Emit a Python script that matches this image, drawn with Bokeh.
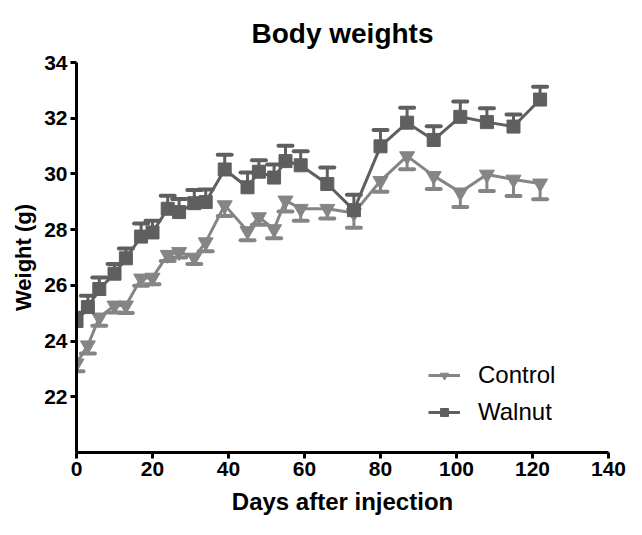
from bokeh.plotting import figure
from bokeh.models import Range1d, FixedTicker, Legend, LegendItem
from bokeh.embed import file_html
from bokeh.resources import INLINE

days = [0, 3, 6, 10, 13, 17, 20, 24, 27, 31, 34, 39, 45, 48, 52, 55, 59, 66, 73, 80, 87, 94, 101, 108, 115, 122]
control = [23.2, 23.85, 24.85, 25.28, 25.28, 26.25, 26.28, 27.1, 27.2, 27.0, 27.55, 28.88, 27.95, 28.45, 28.02, 29.05, 28.75,
           28.75, 28.6, 29.75, 30.64, 29.93, 29.34, 29.98, 29.8, 29.66]
control_err = [0.28, 0.3, 0.3, 0.25, 0.27, 0.26, 0.24, 0.23, 0.2, 0.23, 0.33, 0.39, 0.33, 0.27, 0.33, 0.4, 0.43,
               0.35, 0.53, 0.39, 0.47, 0.47, 0.53, 0.59, 0.59, 0.57]
walnut = [24.72, 25.22, 25.87, 26.42, 26.97, 27.75, 27.9, 28.75, 28.63, 28.95, 28.99, 30.16, 29.52, 30.08, 29.87, 30.46,
          30.31, 29.64, 28.7, 30.99, 31.84, 31.22, 32.05, 31.86, 31.7, 32.67]
walnut_err = [0.3, 0.41, 0.41, 0.35, 0.35, 0.47, 0.42, 0.47, 0.47, 0.47, 0.45, 0.53, 0.53, 0.41, 0.47, 0.55, 0.5,
              0.59, 0.55, 0.59, 0.54, 0.49, 0.55, 0.5, 0.43, 0.46]
x_ticks = [0, 20, 40, 60, 80, 100, 120, 140]
y_ticks = [22, 24, 26, 28, 30, 32, 34]

FONT = "Liberation Sans"
C_COL = "#858585"
W_COL = "#5f5f5f"

p = figure(width=626, height=519, x_range=Range1d(0, 140), y_range=Range1d(20, 34),
           output_backend="svg", toolbar_location=None,
           min_border_left=76, min_border_right=18, min_border_top=62, min_border_bottom=67,
           title="Body weights")
p.title.align = "center"
p.title.text_font = FONT
p.title.text_font_size = "28px"
p.title.text_font_style = "bold"
p.title.text_color = "black"
p.title.standoff = 28
p.outline_line_color = None
p.xgrid.visible = False
p.ygrid.visible = False

for ax, ticks in ((p.xaxis[0], x_ticks), (p.yaxis[0], y_ticks)):
    ax.ticker = FixedTicker(ticks=ticks)
    ax.axis_line_width = 3
    ax.axis_line_color = "black"
    ax.major_tick_line_width = 3
    ax.major_tick_line_color = "black"
    ax.major_tick_out = 6
    ax.major_tick_in = 0
    ax.minor_tick_line_color = None
    ax.major_label_text_font = FONT
    ax.major_label_text_font_style = "bold"
    ax.major_label_text_font_size = "21px"
    ax.major_label_text_color = "black"
    ax.axis_label_text_font = FONT
    ax.axis_label_text_font_style = "bold"
    ax.axis_label_text_color = "black"
    ax.major_label_standoff = 3

p.xaxis.axis_label = "Days after injection"
p.yaxis.axis_label = "Weight (g)"
p.xaxis.axis_label_text_font_size = "24px"
p.yaxis.axis_label_text_font_size = "22px"
p.xaxis.axis_label_standoff = 9
p.yaxis.axis_label_standoff = 5

# Control (error bars below)
c_low = [v - e for v, e in zip(control, control_err)]
p.segment(x0=days, y0=control, x1=days, y1=c_low, line_color=C_COL, line_width=3)
p.scatter(x=days, y=c_low, marker="dash", size=14, line_color=C_COL, line_width=4, line_cap="round")
c_line = p.line(days, control, line_color=C_COL, line_width=3)
c_mark = p.scatter(days, control, marker="inverted_triangle", size=15, fill_color=C_COL, line_color=C_COL)

# Walnut (error bars above)
w_high = [v + e for v, e in zip(walnut, walnut_err)]
p.segment(x0=days, y0=walnut, x1=days, y1=w_high, line_color=W_COL, line_width=3)
p.scatter(x=days, y=w_high, marker="dash", size=14, line_color=W_COL, line_width=4, line_cap="round")
w_line = p.line(days, walnut, line_color=W_COL, line_width=3)
w_mark = p.scatter(days, walnut, marker="square", size=13, fill_color=W_COL, line_color=W_COL)

legend = Legend(items=[LegendItem(label="Control", renderers=[c_line, c_mark]),
                       LegendItem(label="Walnut", renderers=[w_line, w_mark])],
                location=(352, 26), border_line_color=None, background_fill_alpha=0,
                label_text_font=FONT, label_text_font_size="24px", label_text_color="black",
                glyph_width=32, spacing=9, label_standoff=18)
p.add_layout(legend)

open("out.html", "w").write(file_html(p, INLINE))
